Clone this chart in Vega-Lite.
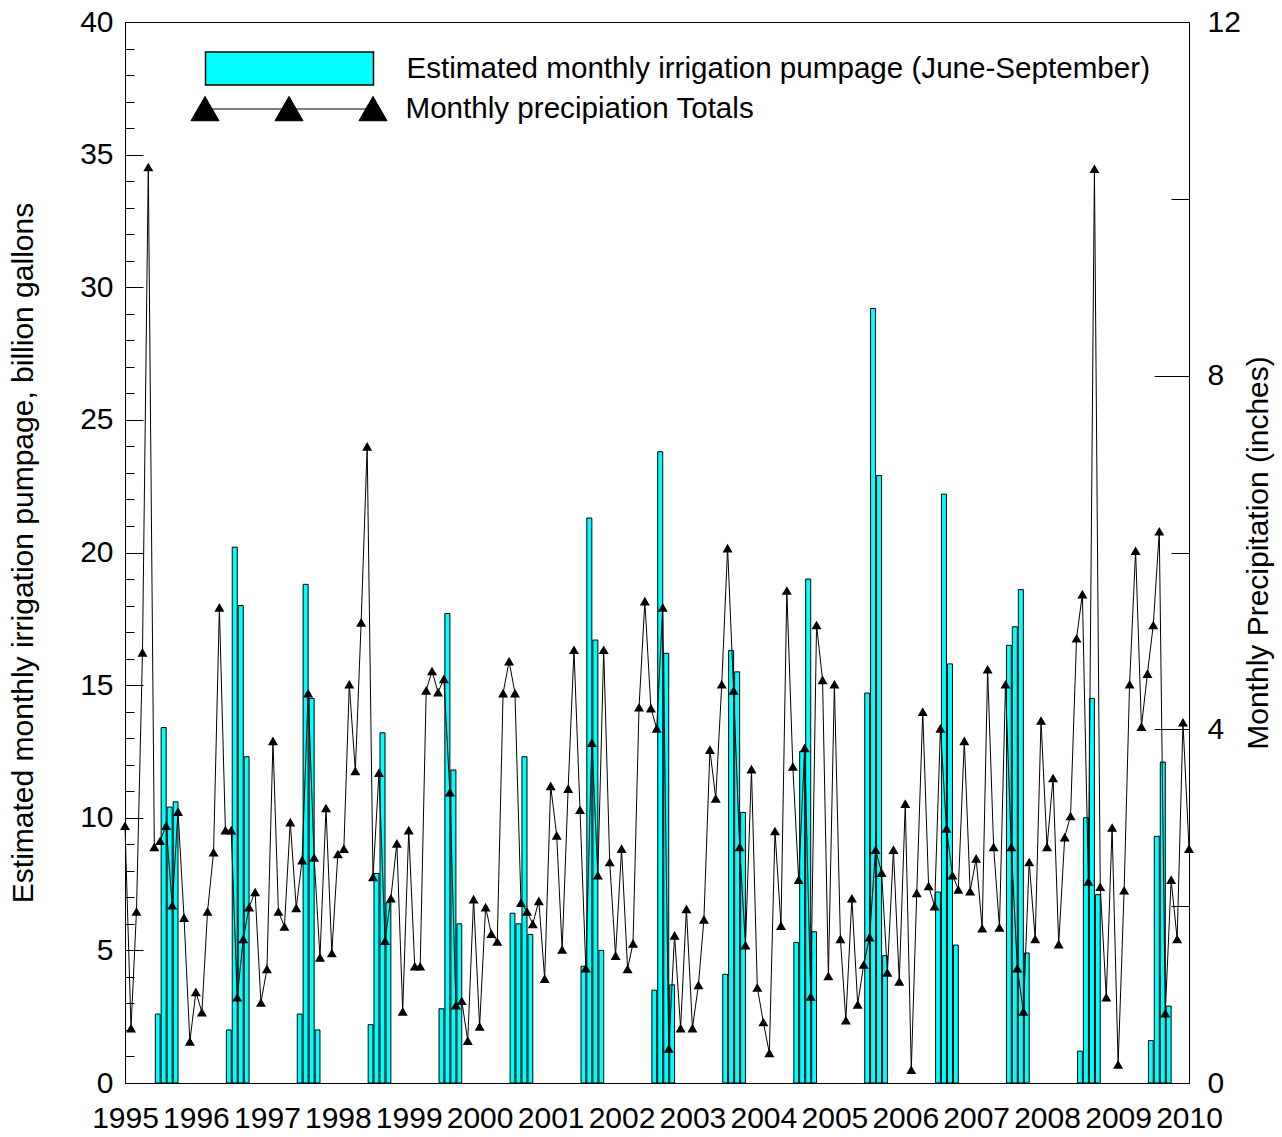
{
  "$schema": "https://vega.github.io/schema/vega-lite/v6.json",
  "width": 1064,
  "height": 1061,
  "autosize": {"type": "none"},
  "padding": {"left": 125, "top": 22, "right": 93, "bottom": 54},
  "background": "white",
  "config": {
    "font": "Liberation Sans",
    "view": {"stroke": "black", "strokeWidth": 1},
    "axis": {
      "grid": false,
      "domainColor": "black",
      "tickColor": "black",
      "labelColor": "black",
      "titleColor": "black",
      "labelFont": "Liberation Sans",
      "titleFont": "Liberation Sans",
      "labelFontSize": 30,
      "titleFontSize": 30,
      "titleFontWeight": "normal",
      "labelFlush": false,
      "labelOverlap": false
    },
    "legend": {
      "labelFont": "Liberation Sans",
      "labelFontSize": 29.6,
      "labelColor": "black",
      "labelLimit": 2000,
      "padding": 0
    }
  },
  "datasets": {
    "pump": [
      {"date": "1995-06", "v": 2.6}, {"date": "1995-07", "v": 13.4}, {"date": "1995-08", "v": 10.4}, {"date": "1995-09", "v": 10.6},
      {"date": "1996-06", "v": 2.0}, {"date": "1996-07", "v": 20.2}, {"date": "1996-08", "v": 18.0}, {"date": "1996-09", "v": 12.3},
      {"date": "1997-06", "v": 2.6}, {"date": "1997-07", "v": 18.8}, {"date": "1997-08", "v": 14.5}, {"date": "1997-09", "v": 2.0},
      {"date": "1998-06", "v": 2.2}, {"date": "1998-07", "v": 7.9}, {"date": "1998-08", "v": 13.2}, {"date": "1998-09", "v": 6.8},
      {"date": "1999-06", "v": 2.8}, {"date": "1999-07", "v": 17.7}, {"date": "1999-08", "v": 11.8}, {"date": "1999-09", "v": 6.0},
      {"date": "2000-06", "v": 6.4}, {"date": "2000-07", "v": 6.0}, {"date": "2000-08", "v": 12.3}, {"date": "2000-09", "v": 5.6},
      {"date": "2001-06", "v": 4.4}, {"date": "2001-07", "v": 21.3}, {"date": "2001-08", "v": 16.7}, {"date": "2001-09", "v": 5.0},
      {"date": "2002-06", "v": 3.5}, {"date": "2002-07", "v": 23.8}, {"date": "2002-08", "v": 16.2}, {"date": "2002-09", "v": 3.7},
      {"date": "2003-06", "v": 4.1}, {"date": "2003-07", "v": 16.3}, {"date": "2003-08", "v": 15.5}, {"date": "2003-09", "v": 10.2},
      {"date": "2004-06", "v": 5.3}, {"date": "2004-07", "v": 12.5}, {"date": "2004-08", "v": 19.0}, {"date": "2004-09", "v": 5.7},
      {"date": "2005-06", "v": 14.7}, {"date": "2005-07", "v": 29.2}, {"date": "2005-08", "v": 22.9}, {"date": "2005-09", "v": 4.8},
      {"date": "2006-06", "v": 7.2}, {"date": "2006-07", "v": 22.2}, {"date": "2006-08", "v": 15.8}, {"date": "2006-09", "v": 5.2},
      {"date": "2007-06", "v": 16.5}, {"date": "2007-07", "v": 17.2}, {"date": "2007-08", "v": 18.6}, {"date": "2007-09", "v": 4.9},
      {"date": "2008-06", "v": 1.2}, {"date": "2008-07", "v": 10.0}, {"date": "2008-08", "v": 14.5}, {"date": "2008-09", "v": 7.1},
      {"date": "2009-06", "v": 1.6}, {"date": "2009-07", "v": 9.3}, {"date": "2009-08", "v": 12.1}, {"date": "2009-09", "v": 2.9}
    ],
    "precip": [
      {"date": "1995-01", "p": 2.91}, {"date": "1995-02", "p": 0.62}, {"date": "1995-03", "p": 1.94}, {"date": "1995-04", "p": 4.87}, {"date": "1995-05", "p": 10.36}, {"date": "1995-06", "p": 2.67}, {"date": "1995-07", "p": 2.74}, {"date": "1995-08", "p": 2.91}, {"date": "1995-09", "p": 2.01}, {"date": "1995-10", "p": 3.07}, {"date": "1995-11", "p": 1.87}, {"date": "1995-12", "p": 0.47},
      {"date": "1996-01", "p": 1.03}, {"date": "1996-02", "p": 0.80}, {"date": "1996-03", "p": 1.94}, {"date": "1996-04", "p": 2.61}, {"date": "1996-05", "p": 5.38}, {"date": "1996-06", "p": 2.86}, {"date": "1996-07", "p": 2.86}, {"date": "1996-08", "p": 0.97}, {"date": "1996-09", "p": 1.63}, {"date": "1996-10", "p": 1.99}, {"date": "1996-11", "p": 2.16}, {"date": "1996-12", "p": 0.91},
      {"date": "1997-01", "p": 1.29}, {"date": "1997-02", "p": 3.87}, {"date": "1997-03", "p": 1.94}, {"date": "1997-04", "p": 1.77}, {"date": "1997-05", "p": 2.95}, {"date": "1997-06", "p": 1.98}, {"date": "1997-07", "p": 2.52}, {"date": "1997-08", "p": 4.41}, {"date": "1997-09", "p": 2.55}, {"date": "1997-10", "p": 1.42}, {"date": "1997-11", "p": 3.11}, {"date": "1997-12", "p": 1.47},
      {"date": "1998-01", "p": 2.59}, {"date": "1998-02", "p": 2.65}, {"date": "1998-03", "p": 4.51}, {"date": "1998-04", "p": 3.53}, {"date": "1998-05", "p": 5.21}, {"date": "1998-06", "p": 7.20}, {"date": "1998-07", "p": 2.33}, {"date": "1998-08", "p": 3.51}, {"date": "1998-09", "p": 1.61}, {"date": "1998-10", "p": 2.09}, {"date": "1998-11", "p": 2.71}, {"date": "1998-12", "p": 0.81},
      {"date": "1999-01", "p": 2.86}, {"date": "1999-02", "p": 1.32}, {"date": "1999-03", "p": 1.32}, {"date": "1999-04", "p": 4.44}, {"date": "1999-05", "p": 4.66}, {"date": "1999-06", "p": 4.42}, {"date": "1999-07", "p": 4.57}, {"date": "1999-08", "p": 3.29}, {"date": "1999-09", "p": 0.88}, {"date": "1999-10", "p": 0.93}, {"date": "1999-11", "p": 0.48}, {"date": "1999-12", "p": 2.08},
      {"date": "2000-01", "p": 0.64}, {"date": "2000-02", "p": 1.99}, {"date": "2000-03", "p": 1.69}, {"date": "2000-04", "p": 1.60}, {"date": "2000-05", "p": 4.41}, {"date": "2000-06", "p": 4.77}, {"date": "2000-07", "p": 4.41}, {"date": "2000-08", "p": 2.04}, {"date": "2000-09", "p": 1.94}, {"date": "2000-10", "p": 1.80}, {"date": "2000-11", "p": 2.06}, {"date": "2000-12", "p": 1.18},
      {"date": "2001-01", "p": 3.36}, {"date": "2001-02", "p": 2.80}, {"date": "2001-03", "p": 1.51}, {"date": "2001-04", "p": 3.33}, {"date": "2001-05", "p": 4.90}, {"date": "2001-06", "p": 3.09}, {"date": "2001-07", "p": 1.30}, {"date": "2001-08", "p": 3.85}, {"date": "2001-09", "p": 2.35}, {"date": "2001-10", "p": 4.90}, {"date": "2001-11", "p": 2.50}, {"date": "2001-12", "p": 1.44},
      {"date": "2002-01", "p": 2.65}, {"date": "2002-02", "p": 1.29}, {"date": "2002-03", "p": 1.58}, {"date": "2002-04", "p": 4.25}, {"date": "2002-05", "p": 5.45}, {"date": "2002-06", "p": 4.24}, {"date": "2002-07", "p": 4.01}, {"date": "2002-08", "p": 5.38}, {"date": "2002-09", "p": 0.39}, {"date": "2002-10", "p": 1.67}, {"date": "2002-11", "p": 0.62}, {"date": "2002-12", "p": 1.97},
      {"date": "2003-01", "p": 0.62}, {"date": "2003-02", "p": 1.11}, {"date": "2003-03", "p": 1.85}, {"date": "2003-04", "p": 3.77}, {"date": "2003-05", "p": 3.22}, {"date": "2003-06", "p": 4.51}, {"date": "2003-07", "p": 6.05}, {"date": "2003-08", "p": 4.44}, {"date": "2003-09", "p": 2.67}, {"date": "2003-10", "p": 1.56}, {"date": "2003-11", "p": 3.55}, {"date": "2003-12", "p": 1.08},
      {"date": "2004-01", "p": 0.69}, {"date": "2004-02", "p": 0.34}, {"date": "2004-03", "p": 2.85}, {"date": "2004-04", "p": 1.78}, {"date": "2004-05", "p": 5.57}, {"date": "2004-06", "p": 3.58}, {"date": "2004-07", "p": 2.30}, {"date": "2004-08", "p": 3.79}, {"date": "2004-09", "p": 0.98}, {"date": "2004-10", "p": 5.18}, {"date": "2004-11", "p": 4.56}, {"date": "2004-12", "p": 1.21},
      {"date": "2005-01", "p": 4.51}, {"date": "2005-02", "p": 1.63}, {"date": "2005-03", "p": 0.71}, {"date": "2005-04", "p": 2.09}, {"date": "2005-05", "p": 0.89}, {"date": "2005-06", "p": 1.34}, {"date": "2005-07", "p": 1.65}, {"date": "2005-08", "p": 2.64}, {"date": "2005-09", "p": 2.38}, {"date": "2005-10", "p": 1.25}, {"date": "2005-11", "p": 2.64}, {"date": "2005-12", "p": 1.15},
      {"date": "2006-01", "p": 3.16}, {"date": "2006-02", "p": 0.15}, {"date": "2006-03", "p": 2.15}, {"date": "2006-04", "p": 4.20}, {"date": "2006-05", "p": 2.23}, {"date": "2006-06", "p": 2.00}, {"date": "2006-07", "p": 4.01}, {"date": "2006-08", "p": 2.88}, {"date": "2006-09", "p": 2.35}, {"date": "2006-10", "p": 2.19}, {"date": "2006-11", "p": 3.87}, {"date": "2006-12", "p": 2.17},
      {"date": "2007-01", "p": 2.54}, {"date": "2007-02", "p": 1.75}, {"date": "2007-03", "p": 4.68}, {"date": "2007-04", "p": 2.67}, {"date": "2007-05", "p": 1.76}, {"date": "2007-06", "p": 4.51}, {"date": "2007-07", "p": 2.67}, {"date": "2007-08", "p": 1.30}, {"date": "2007-09", "p": 0.81}, {"date": "2007-10", "p": 2.50}, {"date": "2007-11", "p": 1.63}, {"date": "2007-12", "p": 4.10},
      {"date": "2008-01", "p": 2.67}, {"date": "2008-02", "p": 3.45}, {"date": "2008-03", "p": 1.57}, {"date": "2008-04", "p": 2.78}, {"date": "2008-05", "p": 3.02}, {"date": "2008-06", "p": 5.03}, {"date": "2008-07", "p": 5.53}, {"date": "2008-08", "p": 2.28}, {"date": "2008-09", "p": 10.34}, {"date": "2008-10", "p": 2.22}, {"date": "2008-11", "p": 0.97}, {"date": "2008-12", "p": 2.89},
      {"date": "2009-01", "p": 0.21}, {"date": "2009-02", "p": 2.18}, {"date": "2009-03", "p": 4.51}, {"date": "2009-04", "p": 6.02}, {"date": "2009-05", "p": 4.03}, {"date": "2009-06", "p": 4.63}, {"date": "2009-07", "p": 5.18}, {"date": "2009-08", "p": 6.24}, {"date": "2009-09", "p": 0.79}, {"date": "2009-10", "p": 2.30}, {"date": "2009-11", "p": 1.63}, {"date": "2009-12", "p": 4.08},
      {"date": "2010-01", "p": 2.65}
    ]
  },
  "layer": [
    {
      "data": {"name": "pump"},
      "mark": {"type": "bar", "stroke": "black", "strokeWidth": 1},
      "encoding": {
        "x": {
          "field": "date",
          "timeUnit": "utcyearmonth",
          "type": "temporal",
          "scale": {
            "type": "utc",
            "domain": [{"year": 1995, "month": 1, "date": 1, "utc": true}, {"year": 2010, "month": 1, "date": 1, "utc": true}],
            "nice": false
          },
          "axis": {
            "title": null,
            "values": [
              {"year": 1995, "utc": true}, {"year": 1996, "utc": true}, {"year": 1997, "utc": true}, {"year": 1998, "utc": true},
              {"year": 1999, "utc": true}, {"year": 2000, "utc": true}, {"year": 2001, "utc": true}, {"year": 2002, "utc": true},
              {"year": 2003, "utc": true}, {"year": 2004, "utc": true}, {"year": 2005, "utc": true}, {"year": 2006, "utc": true},
              {"year": 2007, "utc": true}, {"year": 2008, "utc": true}, {"year": 2009, "utc": true}, {"year": 2010, "utc": true}
            ],
            "labelExpr": "utcFormat(datum.value, '%Y')",
            "ticks": false,
            "labelPadding": 20,
            "labelAngle": 0
          }
        },
        "y": {
          "field": "v",
          "type": "quantitative",
          "scale": {"domain": [0, 40], "nice": false, "zero": true},
          "axis": {
            "orient": "left",
            "title": "Estimated monthly irrigation pumpage, billion gallons",
            "values": [0,1,2,3,4,5,6,7,8,9,10,11,12,13,14,15,16,17,18,19,20,21,22,23,24,25,26,27,28,29,30,31,32,33,34,35,36,37,38,39,40],
            "tickSize": {"condition": {"test": "datum.value % 5 === 0", "value": -18}, "value": -9},
            "labelExpr": "datum.value % 5 === 0 ? datum.label : ''",
            "labelPadding": 30,
            "titlePadding": 41
          }
        },
        "fill": {
          "datum": "Estimated monthly irrigation pumpage (June-September)",
          "type": "nominal",
          "scale": {"range": ["#00ffff"]},
          "legend": {
            "title": null,
            "orient": "none",
            "legendX": 79.5,
            "legendY": -38.5,
            "symbolType": "M-1,-0.196H1V0.196H-1Z",
            "symbolSize": 28224,
            "labelOffset": 32,
            "encode": {
              "symbols": {"update": {"fill": {"value": "#00ffff"}, "stroke": {"value": "black"}, "strokeWidth": {"value": 1}, "opacity": {"value": 1}}}
            }
          }
        }
      }
    },
    {
      "data": {"name": "precip"},
      "layer": [
        {
          "mark": {"type": "line", "strokeWidth": 1},
          "encoding": {
            "x": {"field": "date", "type": "temporal"},
            "y": {
              "field": "p",
              "type": "quantitative",
              "scale": {"domain": [0, 12], "nice": false, "zero": true},
              "axis": {
                "orient": "right",
                "title": "Monthly Precipitation (inches)",
                "values": [0, 2, 4, 6, 8, 10, 12],
                "format": "d",
                "tickSize": {"condition": {"test": "datum.value % 4 === 0", "value": -35}, "value": -18},
                "labelExpr": "datum.value % 4 === 0 ? datum.label : ''",
                "labelPadding": 53,
                "titleAngle": 270,
                "titleBaseline": "top",
                "titlePadding": 3
              }
            },
            "stroke": {
              "datum": "Monthly precipiation Totals",
              "type": "nominal",
              "scale": {"range": ["black"]},
              "legend": {
                "title": null,
                "orient": "none",
                "legendX": 79.5,
                "legendY": 2.5,
                "symbolType": "M-1,0H1M-1,-0.15L-0.833,0.14H-1.167ZM0,-0.15L0.167,0.14H-0.167ZM1,-0.15L1.167,0.14H0.833Z",
                "symbolSize": 28224,
                "labelOffset": 32,
                "encode": {
                  "symbols": {"update": {"fill": {"value": "black"}, "stroke": {"value": "black"}, "strokeWidth": {"value": 1}, "opacity": {"value": 1}}}
                }
              }
            }
          }
        },
        {
          "mark": {"type": "point", "shape": "triangle-up", "filled": true, "fill": "black", "stroke": null, "size": 100, "opacity": 1},
          "encoding": {
            "x": {"field": "date", "type": "temporal"},
            "y": {"field": "p", "type": "quantitative"}
          }
        }
      ]
    }
  ],
  "resolve": {"scale": {"y": "independent"}}
}
